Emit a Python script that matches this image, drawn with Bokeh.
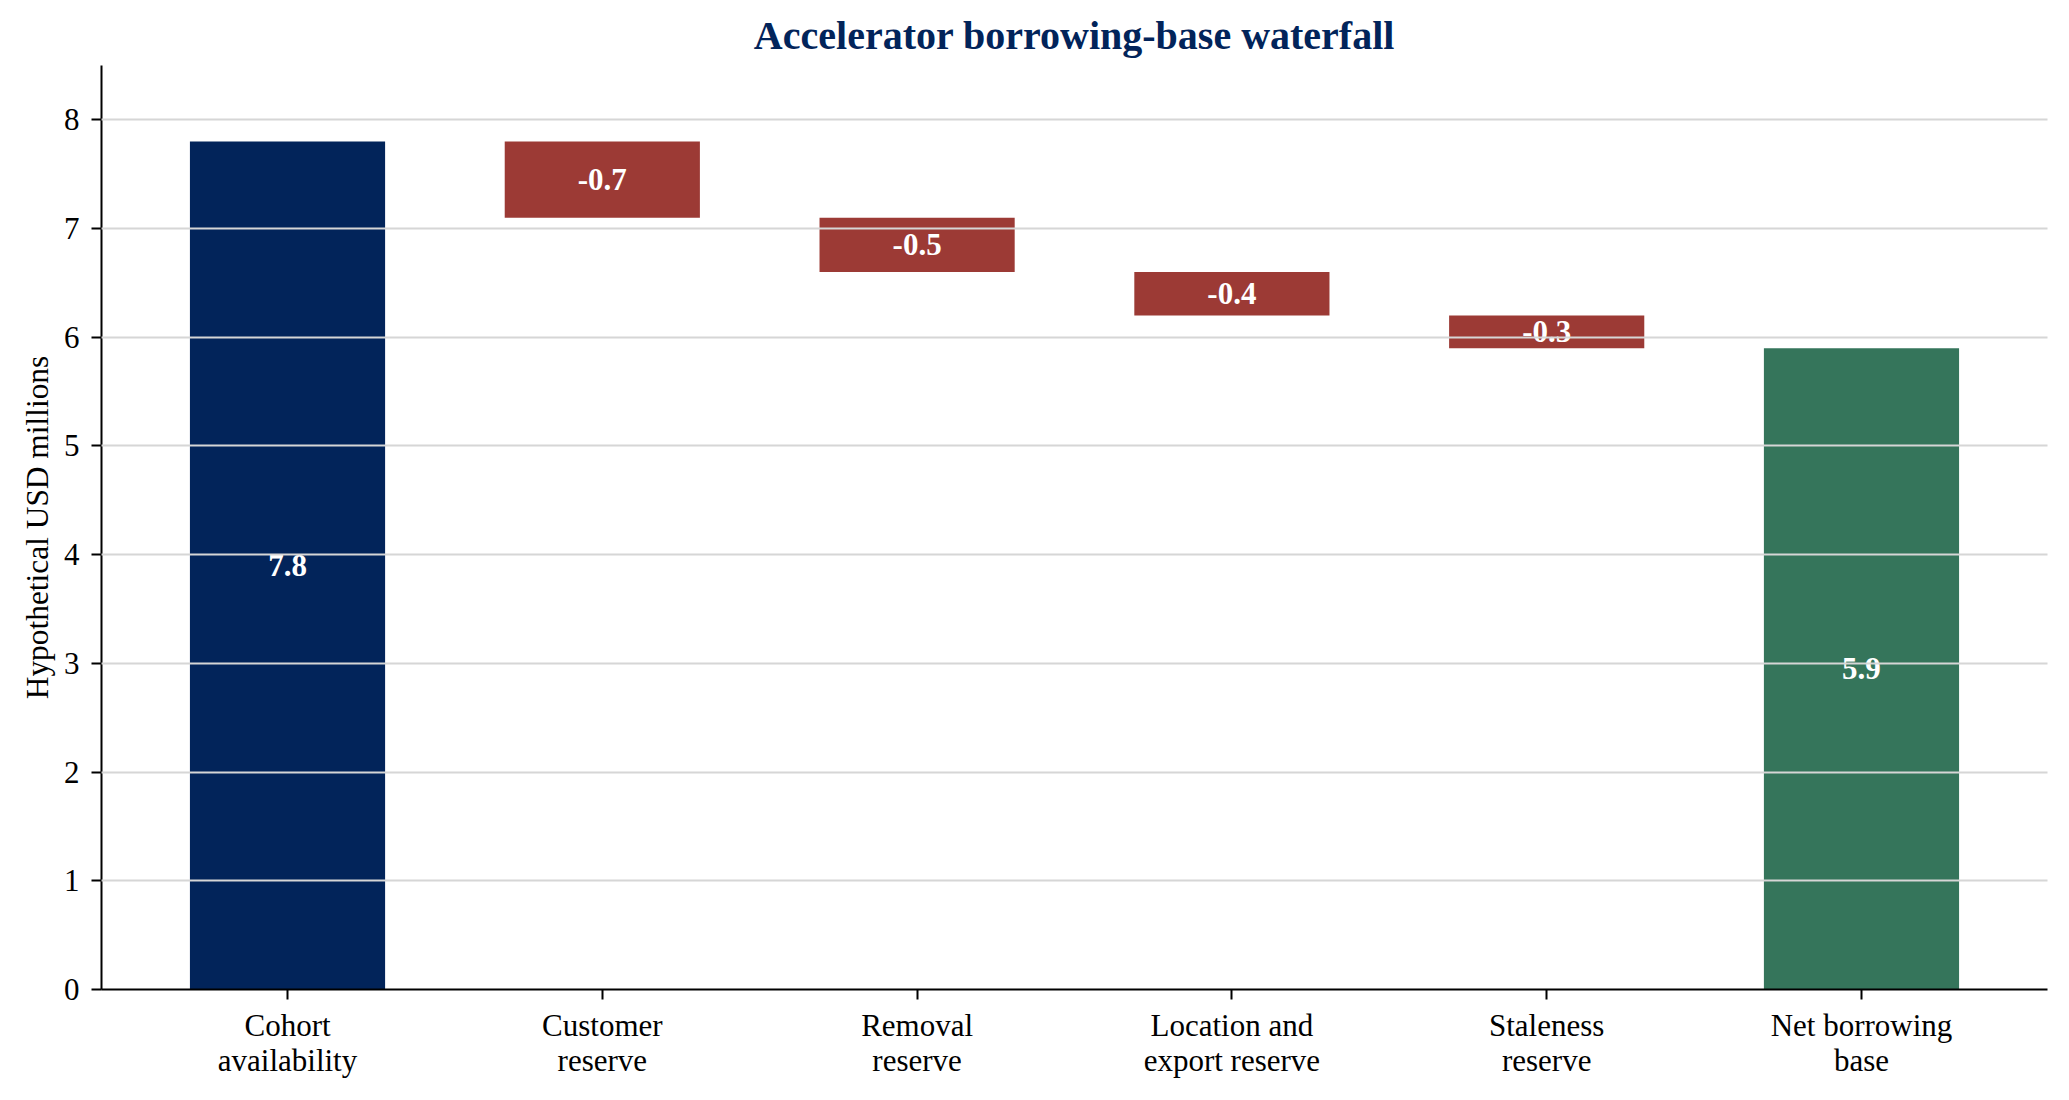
from bokeh.plotting import figure
from bokeh.models import FactorRange, Range1d, FixedTicker, ColumnDataSource
from bokeh.core.properties import value
from bokeh.embed import file_html
from bokeh.resources import INLINE

# ---- data ----
categories = ["Cohort\navailability", "Customer\nreserve", "Removal\nreserve",
              "Location and\nexport reserve", "Staleness\nreserve", "Net borrowing\nbase"]
start_value = 7.8
adjustments = [-0.7, -0.5, -0.4, -0.3]
y_ticks = [0, 1, 2, 3, 4, 5, 6, 7, 8]

NAVY = "#02245A"
RED = "#9C3A35"
GREEN = "#35755B"
FONT = "Liberation Serif"

# build waterfall geometry from data
bottoms, tops, labels, colors = [], [], [], []
bottoms.append(0.0); tops.append(start_value); labels.append(f"{start_value:.1f}"); colors.append(NAVY)
running = start_value
for adj in adjustments:
    new = running + adj
    bottoms.append(min(running, new)); tops.append(max(running, new))
    labels.append(f"{adj:.1f}"); colors.append(RED)
    running = new
bottoms.append(0.0); tops.append(running); labels.append(f"{running:.1f}"); colors.append(GREEN)
mids = [(b + t) / 2 for b, t in zip(bottoms, tops)]

src = ColumnDataSource(dict(x=categories, bottom=bottoms, top=tops, label=labels,
                            color=colors, mid=mids))

xr = FactorRange(*categories, range_padding=0.0303, range_padding_units="percent")
p = figure(x_range=xr, y_range=Range1d(0, 8.5), width=2053, height=1084,
           output_backend="svg", toolbar_location=None,
           min_border_left=101, min_border_right=6, min_border_top=65, min_border_bottom=95)

p.vbar(x="x", bottom="bottom", top="top", width=0.62, fill_color="color",
       line_color=None, source=src)
p.text(x="x", y="mid", text="label", source=src, text_color="white",
       text_font=value(FONT), text_font_style="bold", text_font_size="31px",
       text_align="center", text_baseline="middle")

p.title.text = "Accelerator borrowing-base waterfall"
p.title.align = "center"
p.title.text_font = FONT
p.title.text_font_style = "bold"
p.title.text_font_size = "40px"
p.title.text_color = NAVY
p.title.standoff = 15

p.outline_line_color = None
p.background_fill_color = "white"
p.border_fill_color = "white"

p.xgrid.grid_line_color = None
p.ygrid.grid_line_color = "#d6d6d6"
p.ygrid.grid_line_width = 1.8
p.ygrid.level = "overlay"

p.yaxis.ticker = FixedTicker(ticks=y_ticks)
p.yaxis.axis_label = "Hypothetical USD millions"
for ax in (p.xaxis[0], p.yaxis[0]):
    ax.axis_line_color = "black"
    ax.axis_line_width = 2
    ax.major_tick_line_color = "black"
    ax.major_tick_line_width = 2
    ax.major_tick_out = 10
    ax.major_tick_in = 0
    ax.minor_tick_line_color = None
    ax.major_label_text_font = FONT
    ax.major_label_text_font_size = "31px"
    ax.major_label_text_color = "black"
    ax.axis_label_text_font = FONT
    ax.axis_label_text_font_size = "31.4px"
    ax.axis_label_text_font_style = "normal"
    ax.axis_label_text_color = "black"
p.yaxis.major_label_standoff = 12
p.yaxis.axis_label_standoff = 6
p.xaxis.major_label_standoff = 8
p.xaxis.major_label_text_line_height = 1.0
p.xaxis.major_label_orientation = "horizontal"

open("out.html", "w").write(file_html(p, INLINE))
